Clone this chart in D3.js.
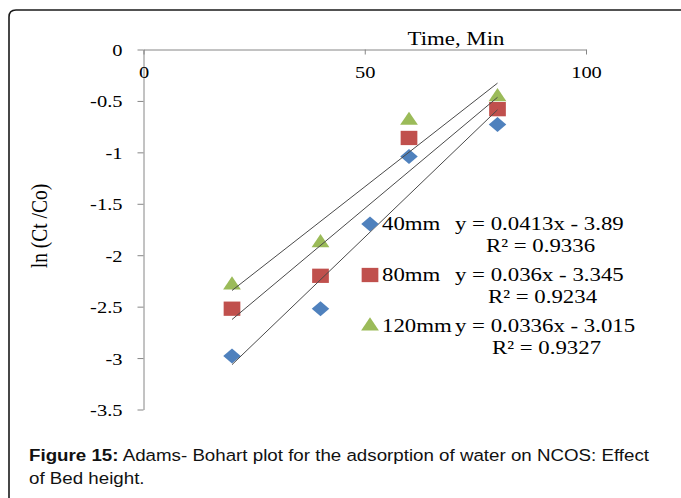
<!DOCTYPE html>
<html>
<head>
<meta charset="utf-8">
<script src="https://cdn.jsdelivr.net/npm/d3@7"></script>
<style>
  body { margin: 0; background: #fff; }
  svg { display: block; }
</style>
</head>
<body>
<div id="chart"></div>
<script>
// data
const times = [20, 40, 60, 80];
const seriesNames = ["40mm", "80mm", "120mm"];
const lnRatio40 = [-2.98, -2.52, -1.04, -0.73];
const lnRatio80 = [-2.52, -2.2, -0.86, -0.58];
const lnRatio120 = [-2.29, -1.88, -0.69, -0.46];
const slopes = [0.0413, 0.036, 0.0336];
const intercepts = [-3.89, -3.345, -3.015];
const rSquared = ["0.9336", "0.9234", "0.9327"];
const xTicks = [0, 50, 100];
const yTicks = [0, -0.5, -1, -1.5, -2, -2.5, -3, -3.5];

const colors = ["#4F81BD", "#C0504D", "#9BBB59"];
const SX = 1.17; // the figure is stretched sideways
const serif = "Liberation Serif, Times New Roman, serif";

const W = 681, H = 498;
const svg = d3.select("#chart").append("svg").attr("width", W).attr("height", H);

// frame (only left and top show)
svg.append("path")
  .attr("d", "M9,498 L9,17 Q9,10 16,10 L681,10")
  .attr("fill", "none")
  .attr("stroke", "#1a1a1a")
  .attr("stroke-width", 1.6);

const x = d3.scaleLinear().domain([0, 100]).range([143.5, 586]);
const y = d3.scaleLinear().domain([-3.5, 0]).range([409.5, 49.5]);

// y axis
const gy = svg.append("g")
  .attr("transform", `translate(${x(0)},0)`)
  .call(d3.axisLeft(y).tickValues(yTicks).tickFormat(d => String(d)).tickSize(6).tickSizeOuter(0));
gy.selectAll("text")
  .attr("x", 0).attr("dy", 0)
  .attr("transform", `translate(-21,6) scale(${SX},1)`)
  .attr("font-family", serif).attr("font-size", 17.5).attr("fill", "#000");

// x axis sits on y = 0 at the top, ticks pointing down
const gx = svg.append("g")
  .attr("transform", `translate(0,${y(0)})`)
  .call(d3.axisBottom(x).tickValues(xTicks).tickFormat(d => String(d)).tickSize(5).tickSizeOuter(0));
gx.selectAll("text")
  .attr("y", 0).attr("dy", 0)
  .attr("transform", `translate(0,28) scale(${SX},1)`)
  .attr("font-family", serif).attr("font-size", 17.5).attr("fill", "#000");

svg.selectAll(".domain, .tick line").attr("stroke", "#868686");

// axis titles
svg.append("text")
  .attr("transform", `translate(456,45) scale(${SX},1)`)
  .attr("text-anchor", "middle")
  .attr("font-family", serif).attr("font-size", 19.5)
  .text("Time, Min");

svg.append("text")
  .attr("transform", `translate(47,226) scale(${SX},1) rotate(-90)`)
  .attr("text-anchor", "middle")
  .attr("font-family", serif).attr("font-size", 19.5)
  .text("ln (Ct /Co)");

// markers
const shapes = [
  { type: d3.symbolSquare, size: 112, rot: 45 },
  { type: d3.symbolSquare, size: 204, rot: 0 },
  { type: d3.symbolTriangle, size: 100, rot: 0 }
];
const allSeries = [lnRatio40, lnRatio80, lnRatio120];

allSeries.forEach((vals, s) => {
  const sh = shapes[s];
  svg.append("g").selectAll("path")
    .data(vals)
    .enter()
    .append("path")
    .attr("d", d3.symbol().type(sh.type).size(sh.size))
    .attr("transform", (d, i) => `translate(${x(times[i])},${y(d)}) scale(${SX},1) rotate(${sh.rot})`)
    .attr("fill", colors[s]);
});

// linear trend lines over the points
const trendX = [times[0], times[times.length - 1]];
const line = d3.line().x(d => x(d[0])).y(d => y(d[1]));
slopes.forEach((m, s) => {
  svg.append("path")
    .attr("d", line(trendX.map(t => [t, m * t + intercepts[s]])))
    .attr("fill", "none")
    .attr("stroke", "#4a4a4a")
    .attr("stroke-width", 1);
});

// legend + equation labels
const legendX = 370;
const rowY = [224, 275, 326];
const eqX = 455;
const r2X = [486, 488, 492];
seriesNames.forEach((name, s) => {
  const sh = shapes[s];
  svg.append("path")
    .attr("d", d3.symbol().type(sh.type).size(sh.size)())
    .attr("transform", `translate(${legendX},${rowY[s]}) scale(${SX},1) rotate(${sh.rot})`)
    .attr("fill", colors[s]);

  const addText = (tx, ty, str) => svg.append("text")
    .attr("transform", `translate(${tx},${ty}) scale(${SX},1)`)
    .attr("font-family", serif).attr("font-size", 19.5)
    .text(str);

  addText(legendX + 12, rowY[s] + 6, name);
  addText(eqX, rowY[s] + 6, `y = ${slopes[s]}x - ${Math.abs(intercepts[s])}`);
  addText(r2X[s], rowY[s] + 28, `R² = ${rSquared[s]}`);
});

// caption
const cap = svg.append("g")
  .attr("font-family", "Liberation Sans, Arial, sans-serif")
  .attr("font-size", 16.3)
  .attr("fill", "#111");
const c1 = cap.append("text").attr("transform", `translate(29,461) scale(1.15,1)`);
c1.append("tspan").attr("font-weight", "bold").text("Figure 15:");
c1.append("tspan").text(" Adams- Bohart plot for the adsorption of water on NCOS: Effect");
cap.append("text").attr("transform", `translate(29,484) scale(1.15,1)`).text("of Bed height.");
</script>
</body>
</html>
